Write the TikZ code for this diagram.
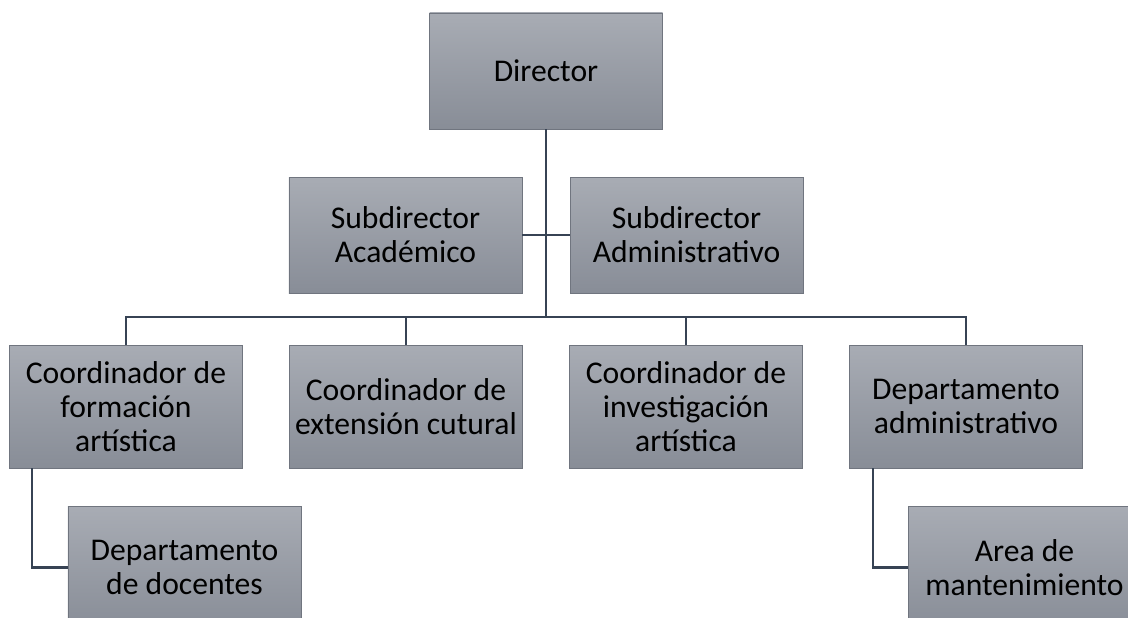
\documentclass[tikz,border=0pt]{standalone}
\usepackage{fontspec}
\setmainfont{Carlito}
\usepackage{tikz}

\definecolor{boxtop}{RGB}{168,172,180}
\definecolor{boxbot}{RGB}{136,141,151}
\definecolor{boxedge}{RGB}{112,117,127}
\definecolor{linkcol}{RGB}{55,67,84}

\begin{document}
\begin{tikzpicture}[x=0.03cm, y=-0.03cm,
    unit/.style={draw=boxedge, line width=0.6pt, top color=boxtop, bottom color=boxbot,
      minimum width=6.99cm, minimum height=3.48cm, inner sep=0pt, align=center,
      font=\fontsize{27}{29}\selectfont},
    tallunit/.style={unit, minimum height=3.69cm},
    link/.style={draw=linkcol, line width=2.2pt}]
  \useasboundingbox (0,0) rectangle (1128,617);
  \clip (0,0) rectangle (1128,617);

  \node [unit] (dir) at (546,71) {Director};

  \node [unit] (subac) at (405.5,235) {Subdirector\\Académico};
  \node [unit] (subad) at (686.5,235) {Subdirector\\Administrativo};

  \node [tallunit] (form) at (126,406.5) {Coordinador de\\formación\\artística};
  \node [tallunit] (ext) at (406,406.5) {Coordinador de\\extensión cutural};
  \node [tallunit] (inv) at (686,406.5) {Coordinador de\\investigación\\artística};
  \node [tallunit] (adm) at (966,406.5) {Departamento\\administrativo};

  \node [tallunit] (doc) at (184.5,567.5) {Departamento\\de docentes};
  \node [tallunit] (mant) at (1024.5,567.5) {Area de\\mantenimiento};

  \coordinate (hub) at (546,317);

  \draw [link] (dir) -- (hub);
  \draw [link] (subac) -- (subad);
  \draw [link] (hub) -| (form.north);
  \draw [link] (hub) -| (ext.north);
  \draw [link] (hub) -| (inv.north);
  \draw [link] (hub) -| (adm.north);

  \draw [link] ([xshift=0.69cm]form.south west) |- (doc.west);
  \draw [link] ([xshift=0.72cm]adm.south west) |- (mant.west);
\end{tikzpicture}
\end{document}
